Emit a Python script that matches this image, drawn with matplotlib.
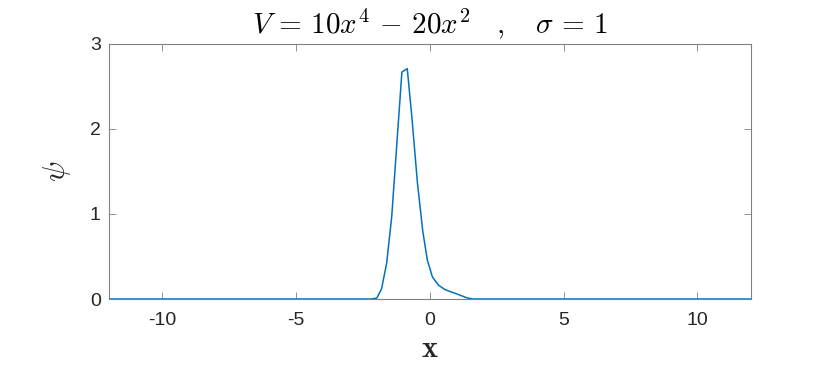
import matplotlib
matplotlib.use('Agg')
import matplotlib.pyplot as plt
import numpy as np

# wave function
x_vals = [-12.0, -2.2, -1.99, -1.81, -1.62, -1.43, -1.22, -1.05, -0.85, -0.68,
          -0.47, -0.27, -0.10, 0.09, 0.31, 0.56, 1.0, 1.37, 1.6, 12.0]
psi_vals = [0.0, 0.0, 0.01, 0.12, 0.42, 0.97, 1.91, 2.67, 2.71, 2.15,
            1.37, 0.80, 0.46, 0.26, 0.165, 0.11, 0.06, 0.015, 0.0, 0.0]

xticks = [-10, -5, 0, 5, 10]
yticks = [0, 1, 2, 3]

plt.rcParams['mathtext.fontset'] = 'cm'
plt.rcParams['font.family'] = 'Liberation Sans'

fig = plt.figure(figsize=(8.3, 3.69), dpi=100)
ax = fig.add_axes([0.1313, 0.1897, 0.9048 - 0.1313, 0.8808 - 0.1897])
ax.plot(x_vals, psi_vals, color='#0072BD', lw=1.1)

ax.set_xlim(-12, 12)
ax.set_ylim(0, 3)
ax.set_xticks(xticks)
ax.set_yticks(yticks)
ax.set_xticklabels([str(t) for t in xticks])
ax.tick_params(direction='in', top=True, right=True, length=5, width=0.6,
               colors='#262626', labelsize=14, color='#808080')
ax.tick_params(axis='x', pad=9)
ax.tick_params(axis='y', pad=6)
for s in ax.spines.values():
    s.set_color('#808080')
    s.set_linewidth(0.8)

ax.set_xlabel(r'$\mathbf{x}$', fontsize=22, color='#262626', labelpad=4)
ax.set_ylabel(r'$\psi$', fontsize=22, color='#262626', labelpad=12)
ax.set_title(r'$V\,=\,10x^4\,-\,20x^2\quad,\quad\sigma\,=\,1$', fontsize=21,
             color='black', pad=8)

fig.savefig('out.png', dpi=100)
